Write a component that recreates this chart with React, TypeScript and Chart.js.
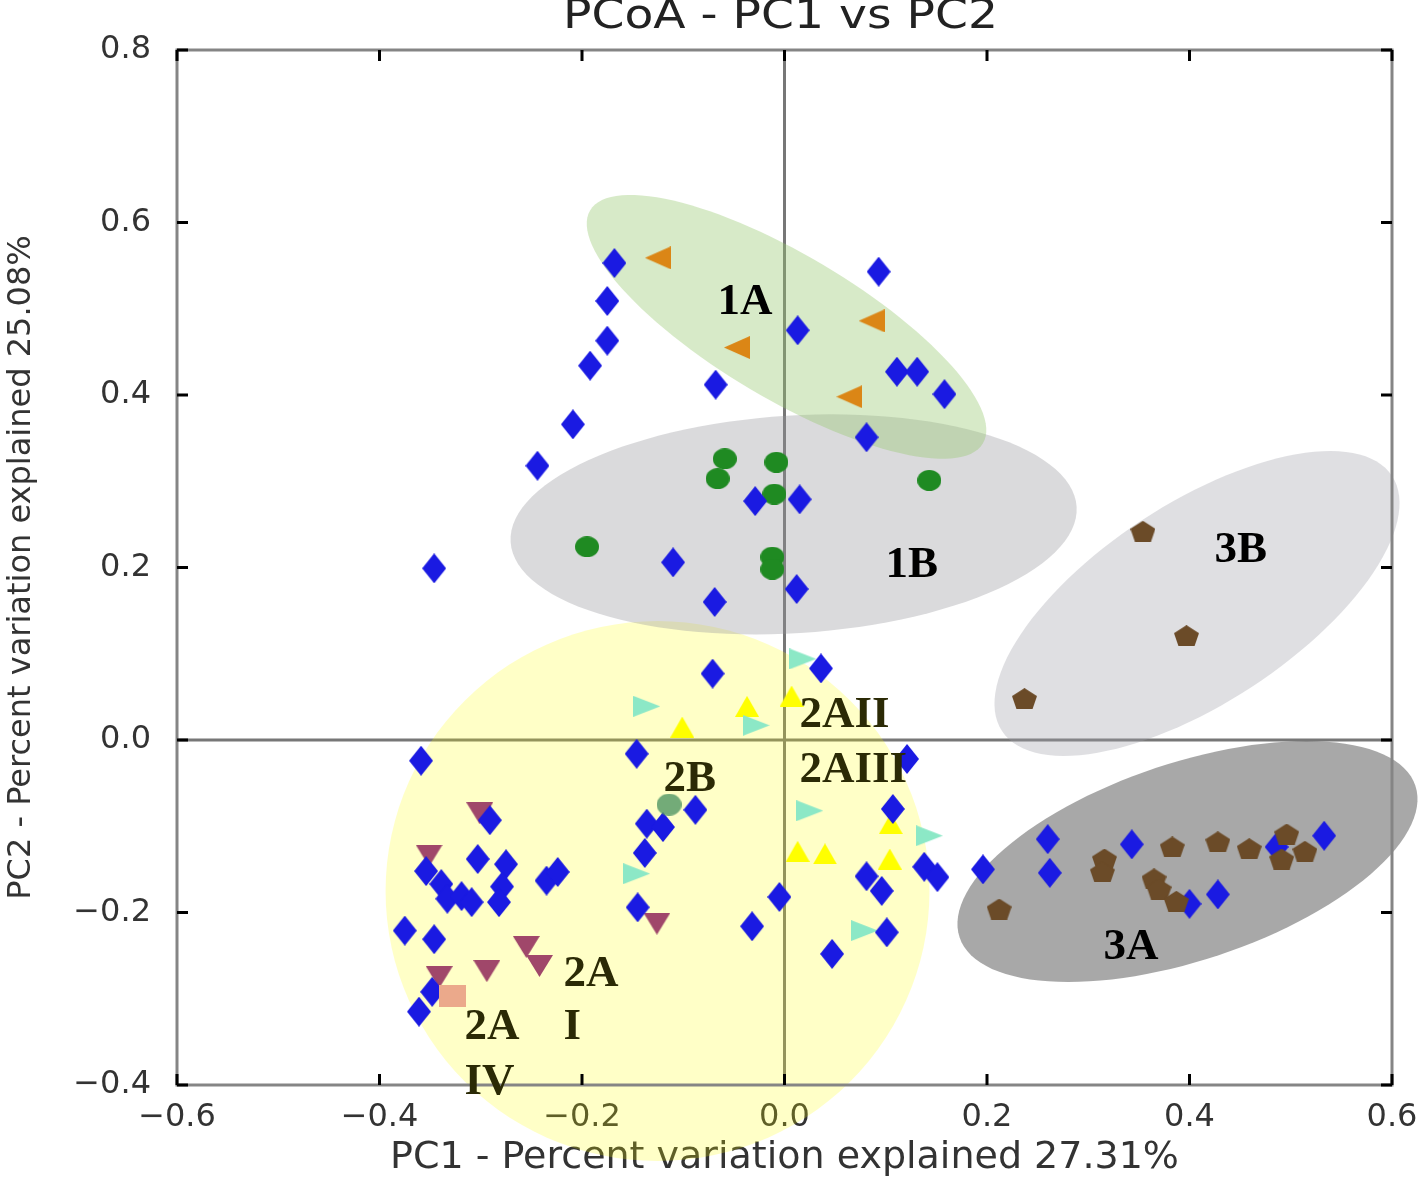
import React, { useEffect, useRef } from 'react';
import { Chart, registerables } from 'chart.js';

Chart.register(...registerables);

// ---------- axes ----------
const xTicks = [-0.6, -0.4, -0.2, 0.0, 0.2, 0.4, 0.6];
const yTicks = [-0.4, -0.2, 0.0, 0.2, 0.4, 0.6, 0.8];
const chartTitle = 'PCoA - PC1 vs PC2';
const xTitle = 'PC1 - Percent variation explained 27.31%';
const yTitle = 'PC2 - Percent variation explained 25.08%';

// ---------- series (PC1, PC2) ----------
const unassignedPts = [
  [-0.168, 0.553], [-0.175, 0.509], [-0.175, 0.463], [-0.192, 0.434], [-0.209, 0.366], [-0.244, 0.318], [-0.346, 0.199],
  [0.093, 0.543], [0.013, 0.475], [-0.068, 0.412], [0.111, 0.427], [0.131, 0.427], [0.158, 0.401], [0.081, 0.351],
  [-0.029, 0.277], [0.015, 0.279], [-0.110, 0.206], [0.012, 0.175], [-0.069, 0.160], [-0.071, 0.077], [0.036, 0.083],
  [-0.359, -0.024], [-0.146, -0.016], [0.121, -0.022], [-0.291, -0.093], [-0.088, -0.081], [0.107, -0.080],
  [-0.136, -0.097], [-0.120, -0.101], [-0.138, -0.131], [-0.145, -0.194], [-0.032, -0.216], [-0.005, -0.182],
  [0.081, -0.158], [0.096, -0.175], [0.138, -0.147], [0.151, -0.159], [0.101, -0.223], [0.047, -0.248], [0.196, -0.150],
  [-0.303, -0.138], [-0.275, -0.144], [-0.354, -0.152], [-0.339, -0.167], [-0.333, -0.184], [-0.319, -0.181], [-0.309, -0.188],
  [-0.279, -0.170], [-0.282, -0.188], [-0.235, -0.163], [-0.224, -0.153], [-0.375, -0.221], [-0.346, -0.231],
  [-0.348, -0.292], [-0.361, -0.315],
  [0.260, -0.115], [0.262, -0.154], [0.343, -0.121], [0.400, -0.190], [0.428, -0.179], [0.486, -0.124], [0.533, -0.111],
];
const group1APts = [[-0.125, 0.559], [0.086, 0.486], [-0.047, 0.455], [0.064, 0.398]];
const group1BPts = [
  [-0.059, 0.326], [-0.008, 0.322], [-0.066, 0.303], [-0.010, 0.285],
  [-0.195, 0.224], [-0.012, 0.212], [-0.012, 0.198], [0.143, 0.301],
];
const group2AIIPts = [
  [-0.101, 0.015], [-0.037, 0.039], [0.007, 0.051], [0.013, -0.129], [0.040, -0.132], [0.104, -0.138], [0.105, -0.097],
];
const group2AIIIPts = [
  [-0.136, 0.039], [-0.028, 0.017], [0.018, 0.094], [0.025, -0.082], [0.143, -0.111], [-0.146, -0.155], [0.079, -0.221],
];
const group2BPts = [[-0.114, -0.075]];
const group2AIPts = [
  [-0.301, -0.085], [-0.351, -0.134], [-0.255, -0.240], [-0.242, -0.262], [-0.294, -0.268], [-0.341, -0.275], [-0.126, -0.213],
];
const group2AIVPts = [[-0.328, -0.297]];
const group3BPts = [[0.354, 0.242], [0.397, 0.121], [0.237, 0.048]];
const group3APts = [
  [0.212, -0.196], [0.316, -0.138], [0.314, -0.153], [0.365, -0.161], [0.370, -0.173], [0.387, -0.187],
  [0.383, -0.124], [0.428, -0.118], [0.459, -0.126], [0.496, -0.109], [0.491, -0.138], [0.514, -0.129],
];

// ---------- cluster ellipses (data units: centre, two conjugate semi-axes) ----------
const ellipse1B = { c: [0.009, 0.250], u: [0.2795, 0.0204], v: [0.0067, -0.1259] };
const ellipse1A = { c: [0.002, 0.479], u: [0.194, -0.135], v: [-0.036, -0.072] };
const ellipse2A = { c: [-0.1254, -0.1751], u: [0.2686, 0.0], v: [0.0, -0.313] };
const ellipse3B = { c: [0.4074, 0.1583], u: [0.1926, 0.1479], v: [0.054, -0.0968] };
const ellipse3A = { c: [0.398, -0.1409], u: [0.2251, 0.0879], v: [0.0308, -0.1086] };

// ---------- cluster labels (text, anchor in data units) ----------
const labelTexts = ['1A', '1B', '3B', '3A', '2AII', '2AIII', '2B', '2A', 'I', '2A', 'IV'];
const labelAnchors = [
  [-0.0662, 0.4939], [0.0998, 0.189], [0.4247, 0.2064], [0.3151, -0.2539],
  [0.0148, 0.0151], [0.0148, -0.0487], [-0.1195, -0.0591],
  [-0.2183, -0.2852], [-0.2183, -0.3467], [-0.316, -0.3467], [-0.316, -0.4104],
];
const labelDark = [true, true, true, true, false, false, false, false, false, false, false];

const toXY = (pts: number[][]) => pts.map(([x, y]) => ({ x, y }));

function makeMarker(shape: string, w: number, h: number, fill: string): HTMLCanvasElement {
  const c = document.createElement('canvas');
  c.width = w;
  c.height = h;
  const g = c.getContext('2d')!;
  g.fillStyle = fill;
  g.beginPath();
  if (shape === 'diamond') {
    g.moveTo(w / 2, 0); g.lineTo(w, h / 2); g.lineTo(w / 2, h); g.lineTo(0, h / 2);
  } else if (shape === 'left') {
    g.moveTo(0, h / 2); g.lineTo(w, 0); g.lineTo(w, h);
  } else if (shape === 'right') {
    g.moveTo(w, h / 2); g.lineTo(0, 0); g.lineTo(0, h);
  } else if (shape === 'up') {
    g.moveTo(w / 2, 0); g.lineTo(w, h); g.lineTo(0, h);
  } else if (shape === 'down') {
    g.moveTo(0, 0); g.lineTo(w, 0); g.lineTo(w / 2, h);
  } else if (shape === 'circle') {
    g.ellipse(w / 2, h / 2, w / 2, h / 2, 0, 0, Math.PI * 2);
  } else if (shape === 'square') {
    g.rect(0, 0, w, h);
  } else if (shape === 'pentagon') {
    g.moveTo(w * 0.5, 0); g.lineTo(w, h * 0.38); g.lineTo(w * 0.82, h); g.lineTo(w * 0.18, h); g.lineTo(0, h * 0.38);
  }
  g.closePath();
  g.fill();
  return c;
}

const fmt = (value: any) => {
  const v = Number(value);
  const s = Math.abs(v).toFixed(1);
  return v < -1e-9 ? '\u2212' + s : s;
};

const overlayPlugin = {
  id: 'pcoaOverlay',
  beforeDatasetsDraw(chart: any) {
    const { ctx, chartArea, scales } = chart;
    const { left, right, top, bottom } = chartArea;
    const xs = scales.x;
    const ys = scales.y;
    ctx.save();
    // zero lines
    const x0 = xs.getPixelForValue(0);
    const y0 = ys.getPixelForValue(0);
    ctx.strokeStyle = '#777777';
    ctx.lineWidth = 3;
    ctx.beginPath();
    ctx.moveTo(x0, top); ctx.lineTo(x0, bottom);
    ctx.moveTo(left, y0); ctx.lineTo(right, y0);
    ctx.stroke();
    // ellipses
    const ells = [
      { e: ellipse2A, col: 'rgba(255,255,0,0.22)' },
      { e: ellipse1B, col: 'rgba(150,150,156,0.35)' },
      { e: ellipse1A, col: 'rgba(150,200,110,0.38)' },
      { e: ellipse3B, col: 'rgba(160,160,170,0.34)' },
      { e: ellipse3A, col: 'rgba(110,110,110,0.6)' },
    ];
    for (const { e, col } of ells) {
      ctx.beginPath();
      const n = 120;
      for (let i = 0; i <= n; i++) {
        const t = (i / n) * Math.PI * 2;
        const dx = e.c[0] + e.u[0] * Math.cos(t) + e.v[0] * Math.sin(t);
        const dy = e.c[1] + e.u[1] * Math.cos(t) + e.v[1] * Math.sin(t);
        const px = xs.getPixelForValue(dx);
        const py = ys.getPixelForValue(dy);
        if (i === 0) ctx.moveTo(px, py); else ctx.lineTo(px, py);
      }
      ctx.closePath();
      ctx.fillStyle = col;
      ctx.fill();
    }
    // frame
    ctx.strokeStyle = '#858585';
    ctx.lineWidth = 3;
    ctx.strokeRect(left, top, right - left, bottom - top);
    // inward tick marks on all four sides
    ctx.strokeStyle = '#000000';
    ctx.lineWidth = 3;
    const tl = 11;
    ctx.beginPath();
    for (const v of xTicks) {
      const px = xs.getPixelForValue(v);
      ctx.moveTo(px, bottom); ctx.lineTo(px, bottom - tl);
      ctx.moveTo(px, top); ctx.lineTo(px, top + tl);
    }
    for (const v of yTicks) {
      const py = ys.getPixelForValue(v);
      ctx.moveTo(left, py); ctx.lineTo(left + tl, py);
      ctx.moveTo(right, py); ctx.lineTo(right - tl, py);
    }
    ctx.stroke();
    ctx.restore();
  },
  afterDatasetsDraw(chart: any) {
    const { ctx, scales } = chart;
    ctx.save();
    ctx.font = 'bold 45px "Liberation Serif", "Times New Roman", serif';
    ctx.textAlign = 'left';
    ctx.textBaseline = 'alphabetic';
    labelTexts.forEach((t, i) => {
      const [ax, ay] = labelAnchors[i];
      ctx.fillStyle = labelDark[i] ? '#000000' : '#2b2a05';
      ctx.fillText(t, scales.x.getPixelForValue(ax), scales.y.getPixelForValue(ay));
    });
    ctx.restore();
  },
  afterDraw(chart: any) {
    const { ctx, chartArea } = chart;
    ctx.save();
    ctx.font = '40px "DejaVu Sans"';
    ctx.fillStyle = '#222222';
    ctx.textAlign = 'center';
    ctx.textBaseline = 'alphabetic';
    ctx.translate((chartArea.left + chartArea.right) / 2 - 4, 28);
    ctx.scale(1.18, 1);
    ctx.fillText(chartTitle, 0, 0);
    ctx.restore();
  },
};

export default function App() {
  const ref = useRef<HTMLCanvasElement>(null);

  useEffect(() => {
    if (!ref.current) return;
    Chart.defaults.font.family = '"DejaVu Sans", sans-serif';
    const mk = {
      blue: makeMarker('diamond', 24, 30, '#1a1ae2'),
      orange: makeMarker('left', 26, 23, '#db8616'),
      green: makeMarker('circle', 24, 21, '#1f8a22'),
      yellow: makeMarker('up', 24, 21, '#ffff00'),
      aqua: makeMarker('right', 27, 21, '#8ce8c6'),
      mauve: makeMarker('down', 27, 22, '#a0476a'),
      salmon: makeMarker('square', 27, 22, '#eba98b'),
      green2B: makeMarker('circle', 25, 22, 'rgba(80,150,100,0.8)'),
      brown: makeMarker('pentagon', 25, 21, '#6b4b28'),
    };
    const ds = (label: string, pts: number[][], style: HTMLCanvasElement, color: string) => ({
      label,
      data: toXY(pts),
      pointStyle: style,
      backgroundColor: color,
      borderColor: color,
      pointRadius: 13,
      pointHoverRadius: 13,
    });
    const chart = new Chart(ref.current, {
      type: 'scatter',
      data: {
        datasets: [
          ds('3A', group3APts, mk.brown, '#6b4b28'),
          ds('3B', group3BPts, mk.brown, '#6b4b28'),
          ds('2A IV', group2AIVPts, mk.salmon, '#eba98b'),
          ds('2B', group2BPts, mk.green2B, '#50966a'),
          ds('Other', unassignedPts, mk.blue, '#1a1ae2'),
          ds('1B', group1BPts, mk.green, '#1f8a22'),
          ds('1A', group1APts, mk.orange, '#db8616'),
          ds('2AIII', group2AIIIPts, mk.aqua, '#8ce8c6'),
          ds('2AII', group2AIIPts, mk.yellow, '#ffff00'),
          ds('2A I', group2AIPts, mk.mauve, '#a0476a'),
        ] as any,
      },
      options: {
        animation: false,
        responsive: false,
        devicePixelRatio: 1,
        layout: { padding: { top: 50, right: 26, bottom: 0, left: 0 }, autoPadding: false },
        plugins: {
          legend: { display: false },
          title: { display: false },
          tooltip: { enabled: false },
        },
        scales: {
          x: {
            type: 'linear',
            position: 'bottom',
            min: -0.6,
            max: 0.6,
            afterBuildTicks: (s: any) => { s.ticks = xTicks.map((value) => ({ value })); },
            afterFit: (s: any) => { s.height = 93; s.paddingLeft = 0; s.paddingRight = 0; },
            grid: { display: false, drawTicks: false },
            border: { display: false },
            ticks: { padding: 13, color: '#333333', font: { size: 32 }, callback: fmt, maxRotation: 0, autoSkip: false },
            title: {
              display: true,
              text: xTitle,
              color: '#333333',
              font: { size: 38, lineHeight: 1 },
              padding: { top: 0, bottom: 1 },
            },
          },
          y: {
            type: 'linear',
            position: 'left',
            min: -0.4,
            max: 0.8,
            afterBuildTicks: (s: any) => { s.ticks = yTicks.map((value) => ({ value })); },
            afterFit: (s: any) => { s.width = 177; s.paddingTop = 0; s.paddingBottom = 0; },
            grid: { display: false, drawTicks: false },
            border: { display: false },
            ticks: { padding: 26, color: '#333333', font: { size: 32 }, callback: fmt, autoSkip: false },
            title: {
              display: true,
              text: yTitle,
              color: '#333333',
              font: { size: 32, lineHeight: 1 },
              padding: { top: 6, bottom: 0 },
            },
          },
        },
      } as any,
      plugins: [overlayPlugin as any],
    });
    return () => chart.destroy();
  }, []);

  return (
    <div style={{ position: 'fixed', left: 0, top: 0, width: 1418, height: 1178, background: '#ffffff' }}>
      <canvas ref={ref} width={1418} height={1178} style={{ display: 'block', width: 1418, height: 1178 }} />
    </div>
  );
}
